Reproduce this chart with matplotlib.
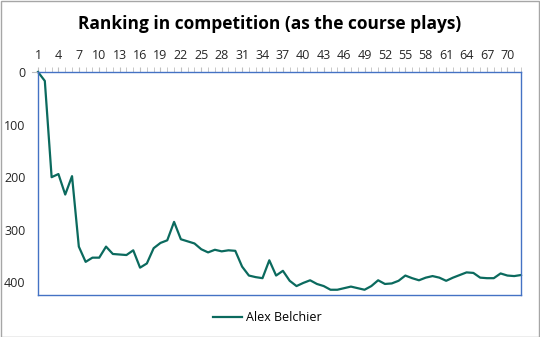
import matplotlib
matplotlib.use("Agg")
import matplotlib.pyplot as plt
from matplotlib.patches import Rectangle

plt.rcParams['font.family'] = ['Open Sans', 'DejaVu Sans']

holes = list(range(1, 73))
ranking = [0, 17, 200, 194, 233, 198, 332, 361, 353, 353,
           332, 346, 347, 348, 339, 372, 364, 335, 325, 320,
           285, 318, 322, 326, 337, 343, 338, 341, 339, 340,
           370, 387, 390, 392, 358, 387, 378, 397, 407, 401,
           396, 403, 407, 414, 414, 411, 408, 411, 414, 407,
           396, 403, 402, 397, 387, 392, 396, 391, 388, 391,
           397, 391, 386, 381, 382, 391, 392, 392, 383, 387,
           388, 386]
series_name = "Alex Belchier"
title = "Ranking in competition (as the course plays)"
x_labels = list(range(1, 73, 3))
y_ticks = [0, 100, 200, 300, 400]

fig = plt.figure(figsize=(5.4, 3.37), dpi=100)
fig.patches.append(Rectangle((0.001, 0.001), 0.997, 0.996, transform=fig.transFigure,
                             fill=False, edgecolor='#a6a6a6', linewidth=1))
ax = fig.add_axes([0.0704, 0.1246, 0.8944, 0.6618])
ax.plot(holes, ranking, color='#0b6a5e', linewidth=1.6, label=series_name, clip_on=False)
ax.set_xlim(1, 72)
ax.set_ylim(424, 0)

ax.xaxis.tick_top()
ax.set_xticks(x_labels)
ax.set_xticklabels([str(v) for v in x_labels])
ax.set_xticks(holes, minor=True)
ax.tick_params(axis='x', which='both', direction='out', length=3.5, color='#bfbfbf',
               labelsize=9, pad=4, labelcolor='#262626')
ax.set_yticks(y_ticks)
ax.tick_params(axis='y', which='both', length=0, labelsize=9, pad=9, labelcolor='#262626')
ax.plot([-0.012, 0], [1, 1], transform=ax.transAxes, color='#bfbfbf', lw=0.8, clip_on=False)

for s in ax.spines.values():
    s.set_color('#4472c4')
    s.set_linewidth(1.0)

fig.text(0.5, 0.93, title, ha='center', va='center', fontsize=12.5, fontweight='bold', color='#000000')
leg = fig.legend(loc='center', bbox_to_anchor=(0.495, 0.057), frameon=False, fontsize=9,
                 handlelength=2.3, handletextpad=0.3)
fig.savefig('out.png', dpi=100)
